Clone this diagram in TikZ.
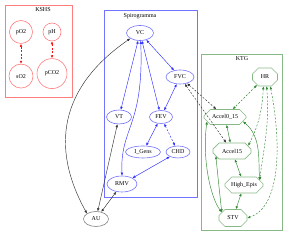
\documentclass[tikz,border=0pt]{standalone}
\usepackage{fontspec}
\setmainfont{Liberation Serif}
\usetikzlibrary{arrows.meta,positioning,shapes.misc,shapes.geometric}
\definecolor{kred}{RGB}{255,125,125}
\definecolor{kredarr}{RGB}{245,20,20}
\definecolor{sblue}{RGB}{115,115,255}
\definecolor{sbluearr}{RGB}{45,45,255}
\definecolor{tgreen}{RGB}{135,185,135}
\definecolor{tgreenarr}{RGB}{50,135,50}

\begin{document}
\begin{tikzpicture}[
  x=1pt,y=1pt,
  font=\fontsize{6}{7}\selectfont,
  title/.style={inner sep=0pt},
  kcirc/.style={draw=kred,circle,inner sep=0pt,line width=0.6pt},
  sell/.style={draw=sblue,ellipse,inner sep=0pt,line width=0.6pt},
  oct/.style={draw=tgreen,chamfered rectangle,chamfered rectangle xsep=4pt,chamfered rectangle ysep=4pt,inner sep=0pt,line width=0.6pt},
  arr/.style={{Latex[length=3pt,width=2.6pt]}-{Latex[length=3pt,width=2.6pt]},line width=0.45pt},
  dashd/.style={dash pattern=on 2pt off 1.6pt}
]
\useasboundingbox (0,0) rectangle (288,237);
% clusters
\draw[kred,line width=0.6pt] (5,232) rectangle (72,140);
\draw[sblue,line width=0.6pt] (104,227) rectangle (197,40);
\draw[tgreen,line width=0.6pt] (201,183) rectangle (282,7);
\node[title] (tkshs) at (43,227) {KSHS};
\node[title] (tspiro) at (140,221) {Spirogramma};
\node[title] (tktg) at (242,178) {KTG};
% KSHS
\node[kcirc,minimum size=23pt] (pO2) at (21,205) {pO2};
\node[kcirc,minimum size=18pt] (pH) at (52,205) {pH};
\node[kcirc,minimum size=24pt,below=20pt of pO2] (sO2) {sO2};
\node[kcirc,minimum size=30pt,below=17pt of pH] (pCO2) {pCO2};
% Spirogramma
\node[sell,minimum width=27pt,minimum height=15pt] (VC) at (140,204) {VC};
\node[sell,minimum width=28pt,minimum height=14pt] (FVC) at (180,160) {FVC};
\node[sell,minimum width=25pt,minimum height=14pt] (VT) at (119,120) {VT};
\node[sell,minimum width=23pt,minimum height=13pt] (FEV) at (161,120) {FEV};
\node[sell,minimum width=35pt,minimum height=12pt] (IGens) at (143,85) {I\_Gens};
\node[sell,minimum width=24pt,minimum height=12pt] (CHD) at (178,85) {CHD};
\node[sell,minimum width=30pt,minimum height=16pt] (RMV) at (122,53) {RMV};
\node[draw=gray,ellipse,inner sep=0pt,line width=0.6pt,minimum width=25pt,minimum height=15pt] (AU) at (96,18) {AU};
% KTG
\node[oct,minimum width=25pt,minimum height=18pt] (HR) at (265,160) {HR};
\node[oct,minimum width=42pt,minimum height=15pt] (Accel0) at (225,120) {Accel0\_15};
\node[oct,minimum width=38pt,minimum height=16pt] (Accel15) at (232,86) {Accel15};
\node[oct,minimum width=38pt,minimum height=16pt] (HighEpis) at (244,52) {High\_Epis};
\node[oct,minimum width=28pt,minimum height=17pt] (STV) at (233,19) {STV};

\draw[arr,kredarr,dashd] (pO2) -- (sO2);
\draw[arr,kredarr,dashd] (pH) -- (pCO2);

\draw[arr,sbluearr] (VC) -- (FVC);
\draw[arr,sbluearr] (VC) -- (VT);
\draw[arr,sbluearr] (VC) -- (FEV);
\draw[arr,sbluearr] (VC.-85) .. controls (144,110) and (120,110) .. (RMV.north);
\draw[arr,sbluearr] (FVC) -- (FEV);
\draw[arr,sbluearr] (FEV) -- (IGens);
\draw[arr,sbluearr,dashd] (FEV) -- (CHD);
\draw[arr,sbluearr] (CHD) -- (RMV);

\draw[arr,black!80] (AU.north west) .. controls (50,90) and (60,150) .. (VC.south west);
\draw[arr,black!80] (AU) -- (VT);
\draw[arr,black!80] (AU) -- (RMV);
\draw[arr,black!80,dashd] (FVC) -- (Accel0);
\draw[arr,black!80,dashd] (FVC) -- (Accel15);

\draw[arr,tgreenarr,dashd] (HR) -- (Accel0);
\draw[arr,tgreenarr,dashd] (HR.-100) .. controls (262,120) and (255,105) .. (Accel15.north east);
\draw[arr,tgreenarr,dashd] (HR.-80) .. controls (270,110) and (262,80) .. (HighEpis.north east);
\draw[arr,tgreenarr,dashd] (HR.-60) .. controls (282,90) and (280,30) .. (STV.east);
\draw[arr,tgreenarr] (Accel0) -- (Accel15);
\draw[arr,tgreenarr] (Accel0.south east) .. controls (262,100) and (258,75) .. (HighEpis.north east);
\draw[arr,tgreenarr] (Accel0.south west) .. controls (202,80) and (210,40) .. (STV.north west);
\draw[arr,tgreenarr] (Accel15.south west) .. controls (218,60) and (220,40) .. (STV.north west);
\draw[arr,tgreenarr] (Accel15) -- (HighEpis);
\draw[arr,tgreenarr] (HighEpis) -- (STV);
\end{tikzpicture}
\end{document}
